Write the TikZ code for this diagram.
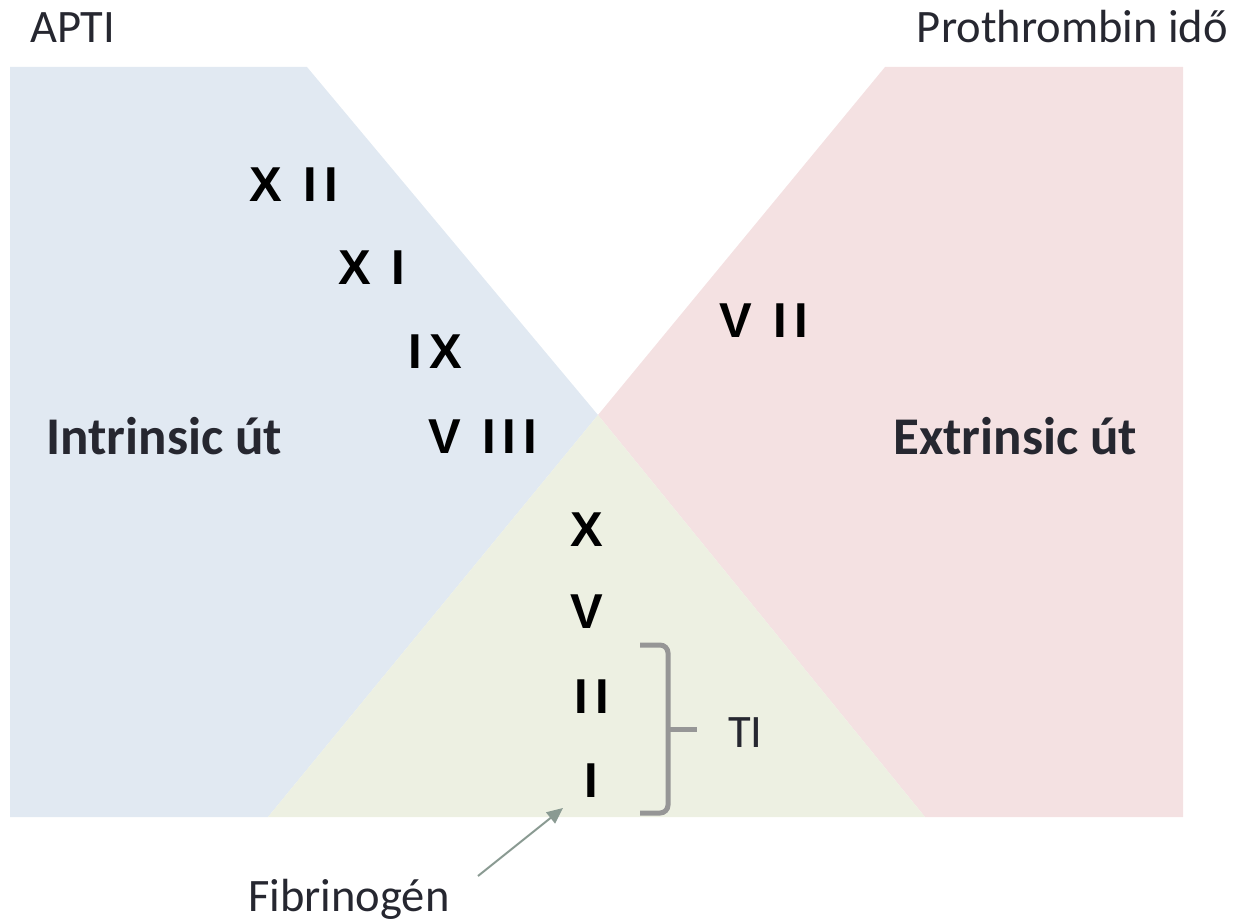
\documentclass[tikz,border=0pt]{standalone}
\usepackage{fontspec}
\setmainfont{Carlito}
\newfontfamily\numfont{Liberation Sans}[LetterSpace=15]
\usetikzlibrary{arrows.meta}
\definecolor{blueA}{RGB}{225,233,242}
\definecolor{pinkA}{RGB}{244,225,226}
\definecolor{greenA}{RGB}{237,240,226}
\definecolor{txt}{RGB}{38,39,48}
\definecolor{brk}{RGB}{150,150,150}
\definecolor{arr}{RGB}{138,154,146}
\tikzset{
  num/.style={inner sep=0pt, font=\numfont\bfseries\fontsize{49}{49}\selectfont, text=black},
  lbl/.style={inner sep=0pt, font=\fontsize{46.5}{46.5}\selectfont, text=txt},
  pathlbl/.style={inner sep=0pt, font=\bfseries\fontsize{53}{53}\selectfont, text=txt},
}
\begin{document}
\begin{tikzpicture}[x=1pt,y=-1pt]
\useasboundingbox (0,0) rectangle (1235,923);
% regions
\fill[blueA] (10,67) -- (307,67) -- (598,415) -- (268,817) -- (10,817) -- cycle;
\fill[pinkA] (885,67) -- (1183,67) -- (1183,817) -- (925,817) -- (598,415) -- cycle;
\fill[greenA] (598,415) -- (268,817) -- (925,817) -- cycle;
% titles
\node[lbl, anchor=base west] (apti) at (30,43) {APTI};
\node[lbl, anchor=base east] (pt) at (1228,43) {Prothrombin idő};
\node[pathlbl, anchor=base west] (intr) at (46,454) {Intrinsic út};
\node[pathlbl, anchor=base west] (extr) at (893,454) {Extrinsic út};
% numerals
\node[num] (f12) at (294,185) {X II};
\node[num] (f11) at (372,268) {X I};
\node[num] (f9) at (435,352) {IX};
\node[num] (f8) at (483,437) {V III};
\node[num] (f7) at (764,321) {V II};
\node[num] (f10) at (587,530) {X};
\node[num] (f5) at (587,612) {V};
\node[num] (f2) at (592,697) {II};
\node[num] (f1) at (591,781) {I};
% bracket
\coordinate (bt) at (640,645);
\coordinate (bb) at (640,813);
\coordinate (bm) at (697,729);
\draw[brk, line width=5pt, rounded corners=8pt] (bt) -- (668,645) -- (668,813) -- (bb);
\draw[brk, line width=5pt] (668,729) -- (bm);
\node[lbl, anchor=west] (ti) at (728,733) {TI};
% fibrinogen
\node[lbl, anchor=base west] (fib) at (248,911) {Fibrinogén};
\coordinate (as) at (478,876);
\coordinate (ae) at (563,808);
\draw[arr, line width=2pt, -{Triangle[length=16pt,width=14pt]}] (as) -- (ae);
\end{tikzpicture}
\end{document}
